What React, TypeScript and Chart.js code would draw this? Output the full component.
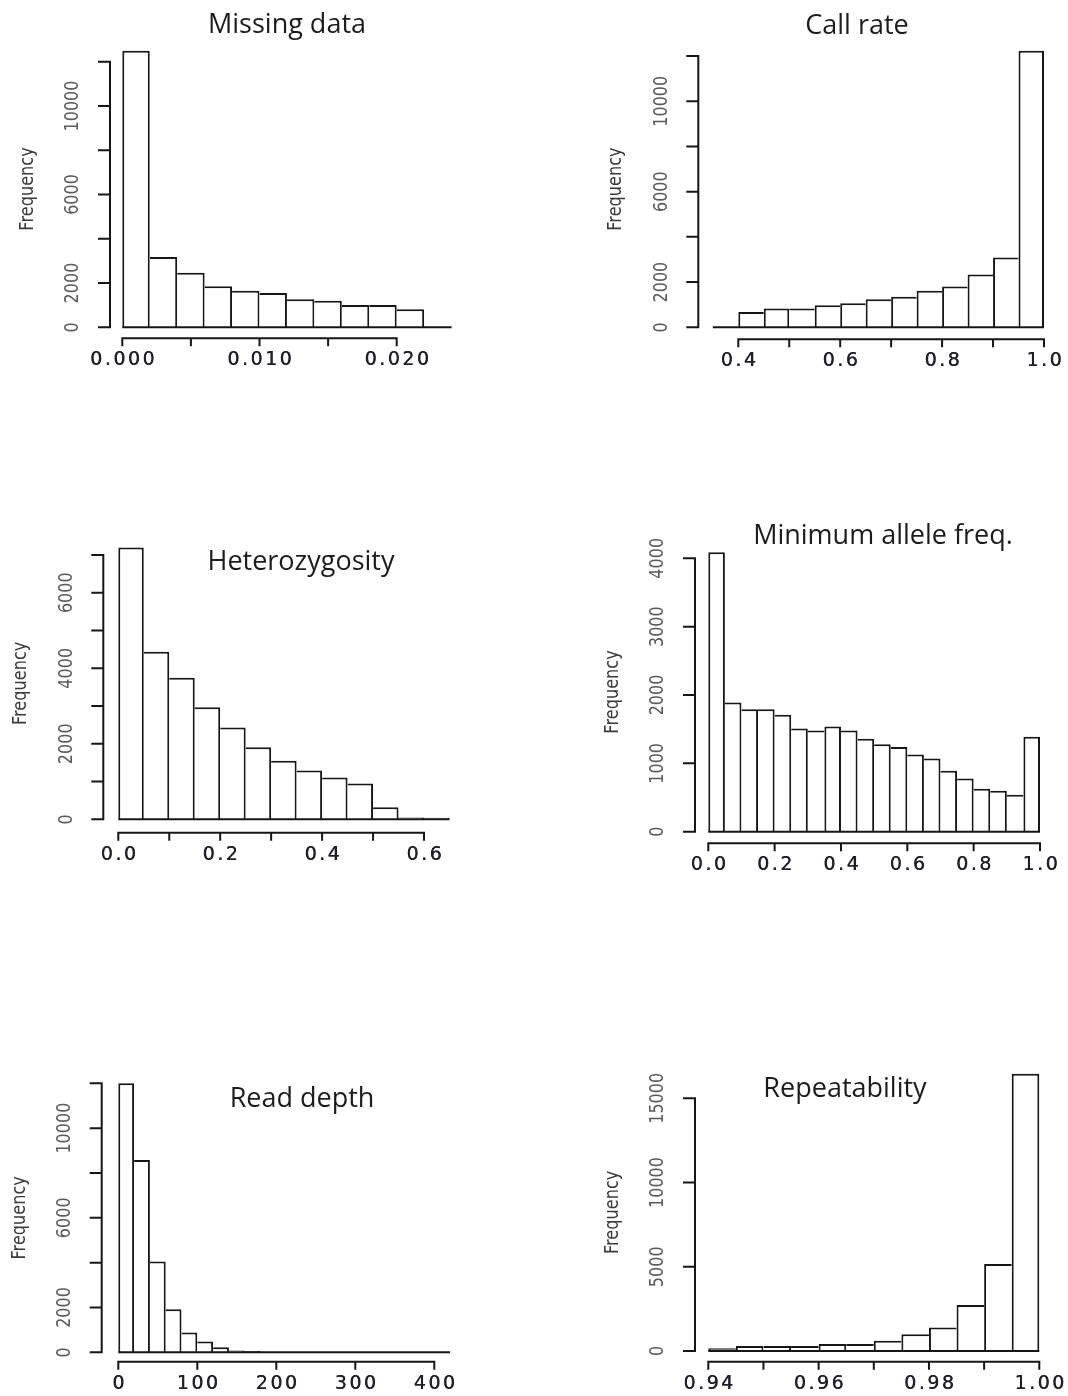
import React, { useEffect, useRef } from 'react';
import { Chart, registerables } from 'chart.js';

Chart.register(...registerables);

// ---------------- DATA ----------------
const missingDataBreaks = [0, 0.002, 0.004, 0.006, 0.008, 0.01, 0.012, 0.014, 0.016, 0.018, 0.02, 0.022, 0.024];
const missingDataCounts = [12500, 3180, 2460, 1850, 1650, 1550, 1270, 1200, 1010, 1010, 820, 0];
const missingXTicks = [0, 0.005, 0.01, 0.015, 0.02];
const missingXLabels = ['0.000', '', '0.010', '', '0.020'];
const missingYTicks = [0, 2000, 4000, 6000, 8000, 10000, 12000];
const missingYLabels = ['0', '2000', '', '6000', '', '10000', ''];

const callRateBreaks = [0.35, 0.4, 0.45, 0.5, 0.55, 0.6, 0.65, 0.7, 0.75, 0.8, 0.85, 0.9, 0.95, 1.0];
const callRateCounts = [0, 680, 830, 830, 970, 1060, 1240, 1350, 1620, 1800, 2330, 3090, 12230];
const callRateXTicks = [0.4, 0.5, 0.6, 0.7, 0.8, 0.9, 1.0];
const callRateXLabels = ['0.4', '', '0.6', '', '0.8', '', '1.0'];
const callRateYTicks = [0, 2000, 4000, 6000, 8000, 10000, 12000];
const callRateYLabels = ['0', '2000', '', '6000', '', '10000', ''];

const hetBreaks = [0, 0.05, 0.1, 0.15, 0.2, 0.25, 0.3, 0.35, 0.4, 0.45, 0.5, 0.55, 0.6, 0.65];
const hetCounts = [7200, 4440, 3750, 2970, 2430, 1910, 1550, 1290, 1110, 950, 320, 50, 40];
const hetXTicks = [0, 0.1, 0.2, 0.3, 0.4, 0.5, 0.6];
const hetXLabels = ['0.0', '', '0.2', '', '0.4', '', '0.6'];
const hetYTicks = [0, 1000, 2000, 3000, 4000, 5000, 6000, 7000];
const hetYLabels = ['0', '', '2000', '', '4000', '', '6000', ''];

const mafBreaks = [0, 0.05, 0.1, 0.15, 0.2, 0.25, 0.3, 0.35, 0.4, 0.45, 0.5, 0.55, 0.6, 0.65, 0.7, 0.75, 0.8, 0.85, 0.9, 0.95, 1.0];
const mafCounts = [4090, 1890, 1790, 1790, 1710, 1510, 1480, 1540, 1480, 1360, 1280, 1240, 1130, 1070, 890, 780, 630, 600, 540, 1390];
const mafXTicks = [0, 0.2, 0.4, 0.6, 0.8, 1.0];
const mafXLabels = ['0.0', '0.2', '0.4', '0.6', '0.8', '1.0'];
const mafYTicks = [0, 1000, 2000, 3000, 4000];
const mafYLabels = ['0', '1000', '2000', '3000', '4000'];

const depthBreaks = [0, 20, 40, 60, 80, 100, 120, 140, 160, 180, 200, 220, 240, 260, 280, 300, 320, 340, 360, 380, 400, 420];
const depthCounts = [12000, 8580, 4050, 1920, 880, 480, 220, 75, 55, 0, 0, 0, 0, 0, 0, 0, 0, 0, 0, 0, 0];
const depthXTicks = [0, 100, 200, 300, 400];
const depthXLabels = ['0', '100', '200', '300', '400'];
const depthYTicks = [0, 2000, 4000, 6000, 8000, 10000, 12000];
const depthYLabels = ['0', '2000', '', '6000', '', '10000', ''];

const repBreaks = [0.94, 0.945, 0.95, 0.955, 0.96, 0.965, 0.97, 0.975, 0.98, 0.985, 0.99, 0.995, 1.0];
const repCounts = [160, 300, 300, 300, 415, 415, 610, 990, 1400, 2730, 5160, 16460];
const repXTicks = [0.94, 0.95, 0.96, 0.97, 0.98, 0.99, 1.0];
const repXLabels = ['0.94', '', '0.96', '', '0.98', '', '1.00'];
const repYTicks = [0, 5000, 10000, 15000];
const repYLabels = ['0', '5000', '10000', '15000'];

// ---------------- LAYOUT ----------------
type Anchor = [number, number]; // [value, page pixel]
interface Panel {
  title: string; titleX: number; titleY: number;
  breaks: number[]; counts: number[];
  xTicks: number[]; xLabels: string[]; yTicks: number[]; yLabels: string[];
  box: { x: number; y: number; w: number; h: number };
  area: { l: number; r: number; t: number; b: number };
  xa: Anchor; xb: Anchor; ya: Anchor; yb: Anchor;
}

const panels: Panel[] = [
  {
    title: 'Missing data', titleX: 287, titleY: 33,
    breaks: missingDataBreaks, counts: missingDataCounts,
    xTicks: missingXTicks, xLabels: missingXLabels, yTicks: missingYTicks, yLabels: missingYLabels,
    box: { x: 0, y: 0, w: 534, h: 420 }, area: { l: 110, r: 465, t: 40, b: 338.3 },
    xa: [0, 122.3], xb: [0.02, 396.7], ya: [0, 327.3], yb: [12000, 61.7],
  },
  {
    title: 'Call rate', titleX: 857, titleY: 34,
    breaks: callRateBreaks, counts: callRateCounts,
    xTicks: callRateXTicks, xLabels: callRateXLabels, yTicks: callRateYTicks, yLabels: callRateYLabels,
    box: { x: 534, y: 0, w: 534, h: 420 }, area: { l: 698.3, r: 1057, t: 40, b: 339.3 },
    xa: [0.4, 738.3], xb: [1.0, 1044], ya: [0, 327.3], yb: [12000, 56],
  },
  {
    title: 'Heterozygosity', titleX: 301, titleY: 570,
    breaks: hetBreaks, counts: hetCounts,
    xTicks: hetXTicks, xLabels: hetXLabels, yTicks: hetYTicks, yLabels: hetYLabels,
    box: { x: 0, y: 480, w: 534, h: 420 }, area: { l: 103.3, r: 463, t: 537, b: 832.7 },
    xa: [0, 118.3], xb: [0.6, 424], ya: [0, 819.3], yb: [7000, 555],
  },
  {
    title: 'Minimum allele freq.', titleX: 883, titleY: 544,
    breaks: mafBreaks, counts: mafCounts,
    xTicks: mafXTicks, xLabels: mafXLabels, yTicks: mafYTicks, yLabels: mafYLabels,
    box: { x: 534, y: 480, w: 534, h: 420 }, area: { l: 695, r: 1053, t: 541, b: 843.3 },
    xa: [0, 708.3], xb: [1.0, 1040], ya: [0, 831.7], yb: [4000, 558.3],
  },
  {
    title: 'Read depth', titleX: 302, titleY: 1107,
    breaks: depthBreaks, counts: depthCounts,
    xTicks: depthXTicks, xLabels: depthXLabels, yTicks: depthYTicks, yLabels: depthYLabels,
    box: { x: 0, y: 1020, w: 534, h: 376 }, area: { l: 101.7, r: 463, t: 1072, b: 1361.7 },
    xa: [0, 118.3], xb: [400, 434.3], ya: [0, 1352.3], yb: [12000, 1083.3],
  },
  {
    title: 'Repeatability', titleX: 845, titleY: 1097,
    breaks: repBreaks, counts: repCounts,
    xTicks: repXTicks, xLabels: repXLabels, yTicks: repYTicks, yLabels: repYLabels,
    box: { x: 534, y: 1020, w: 534, h: 376 }, area: { l: 695, r: 1052.5, t: 1062, b: 1361.7 },
    xa: [0.94, 708.3], xb: [1.0, 1039.3], ya: [0, 1351], yb: [15000, 1098.3],
  },
];

const LINE = '#161616';

function rAxesPlugin(p: Panel) {
  return {
    id: 'rAxes',
    afterDraw(chart: any) {
      const ctx: CanvasRenderingContext2D = chart.ctx;
      const xs = chart.scales.x;
      const ys = chart.scales.y;
      const ca = chart.chartArea;
      ctx.save();
      ctx.strokeStyle = LINE;
      ctx.lineWidth = 2;
      ctx.lineCap = 'butt';

      // baseline of histogram (covers empty bins too)
      const y0 = ys.getPixelForValue(0);
      ctx.beginPath();
      ctx.moveTo(xs.getPixelForValue(p.breaks[0]), y0);
      ctx.lineTo(xs.getPixelForValue(p.breaks[p.breaks.length - 1]), y0);
      ctx.stroke();

      // y axis
      const ax = ca.left;
      ctx.beginPath();
      ctx.moveTo(ax, ys.getPixelForValue(p.yTicks[0]) + 1);
      ctx.lineTo(ax, ys.getPixelForValue(p.yTicks[p.yTicks.length - 1]) - 1);
      p.yTicks.forEach((v) => {
        const py = ys.getPixelForValue(v);
        ctx.moveTo(ax, py);
        ctx.lineTo(ax - 12, py);
      });
      ctx.stroke();

      ctx.fillStyle = '#5a5a5a';
      ctx.font = '20px "DejaVu Sans"';
      ctx.textAlign = 'center';
      ctx.textBaseline = 'middle';
      p.yTicks.forEach((v, i) => {
        const lab = p.yLabels[i];
        if (!lab) return;
        ctx.save();
        ctx.translate(ax - 37, ys.getPixelForValue(v));
        ctx.rotate(-Math.PI / 2);
        ctx.scale(0.8, 1);
        ctx.fillText(lab, 0, 0);
        ctx.restore();
      });

      // Frequency label
      const maxC = Math.max(...p.counts);
      ctx.save();
      ctx.fillStyle = '#3a3a3a';
      ctx.font = '19px "DejaVu Sans"';
      ctx.translate(ax - 82, ys.getPixelForValue(maxC / 2));
      ctx.rotate(-Math.PI / 2);
      ctx.scale(0.85, 1);
      ctx.fillText('Frequency', 0, 0);
      ctx.restore();

      // x axis
      const ay = ca.bottom;
      ctx.beginPath();
      ctx.moveTo(xs.getPixelForValue(p.xTicks[0]) - 1, ay);
      ctx.lineTo(xs.getPixelForValue(p.xTicks[p.xTicks.length - 1]) + 1, ay);
      p.xTicks.forEach((v) => {
        const px = xs.getPixelForValue(v);
        ctx.moveTo(px, ay);
        ctx.lineTo(px, ay + 8);
      });
      ctx.stroke();

      ctx.fillStyle = '#221e2a';
      ctx.font = '19px "DejaVu Sans"';
      const ls = 2.5;
      (ctx as any).letterSpacing = ls + 'px';
      p.xTicks.forEach((v, i) => {
        const lab = p.xLabels[i];
        if (!lab) return;
        ctx.fillText(lab, xs.getPixelForValue(v) + ls / 2, ay + 22);
        ctx.fillText(lab, xs.getPixelForValue(v) + ls / 2 + 0.4, ay + 22);
      });
      (ctx as any).letterSpacing = '0px';

      // title
      ctx.fillStyle = '#1c1c1c';
      ctx.font = '27px "Open Sans"';
      ctx.textAlign = 'center';
      ctx.textBaseline = 'alphabetic';
      ctx.fillText(p.title, p.titleX - p.box.x, p.titleY - p.box.y);
      ctx.restore();
    },
  };
}

function HistPanel({ panel }: { panel: Panel }) {
  const ref = useRef<HTMLCanvasElement>(null);
  useEffect(() => {
    const canvas = ref.current;
    if (!canvas) return;
    const { box, area, xa, xb, ya, yb, breaks, counts } = panel;
    const lin = (a: Anchor, b: Anchor, px: number) => a[0] + ((px - a[1]) * (b[0] - a[0])) / (b[1] - a[1]);
    const xmin = lin(xa, xb, area.l);
    const xmax = lin(xa, xb, area.r);
    const ymin = lin(ya, yb, area.b);
    const ymax = lin(ya, yb, area.t);
    const data = counts.map((c, i) => ({ x: (breaks[i] + breaks[i + 1]) / 2, y: c }));
    const last = counts.length - 1;

    const chart = new Chart(canvas, {
      type: 'bar',
      data: {
        datasets: [
          {
            data: data as any,
            backgroundColor: '#ffffff',
            borderColor: LINE,
            borderSkipped: false,
            inflateAmount: 0,
            barPercentage: 1,
            categoryPercentage: 1,
            clip: false as any,
            borderWidth: (c: any) => {
              const i = c.dataIndex;
              const v = counts[i];
              return {
                top: 2,
                bottom: 0,
                left: i === 0 || v > counts[i - 1] ? 2 : 0,
                right: i === last || v >= counts[i + 1] ? 2 : 0,
              };
            },
          } as any,
        ],
      },
      options: {
        animation: false,
        responsive: false,
        maintainAspectRatio: false,
        events: [],
        layout: {
          padding: {
            left: area.l - box.x,
            top: area.t - box.y,
            right: box.x + box.w - area.r,
            bottom: box.y + box.h - area.b,
          },
        },
        plugins: {
          legend: { display: false },
          tooltip: { enabled: false },
          title: { display: false },
        },
        scales: {
          x: { type: 'linear', display: false, offset: false, min: xmin, max: xmax },
          y: { type: 'linear', display: false, min: ymin, max: ymax },
        },
      },
      plugins: [rAxesPlugin(panel)],
    });
    return () => chart.destroy();
  }, [panel]);

  const { box } = panel;
  return (
    <canvas
      ref={ref}
      width={box.w}
      height={box.h}
      style={{ position: 'absolute', left: box.x, top: box.y, width: box.w, height: box.h }}
    />
  );
}

export default function App() {
  return (
    <div
      style={{
        position: 'absolute',
        left: 0,
        top: 0,
        width: 1068,
        height: 1396,
        background: '#ffffff',
        overflow: 'hidden',
      }}
    >
      {panels.map((p) => (
        <HistPanel key={p.title} panel={p} />
      ))}
    </div>
  );
}
